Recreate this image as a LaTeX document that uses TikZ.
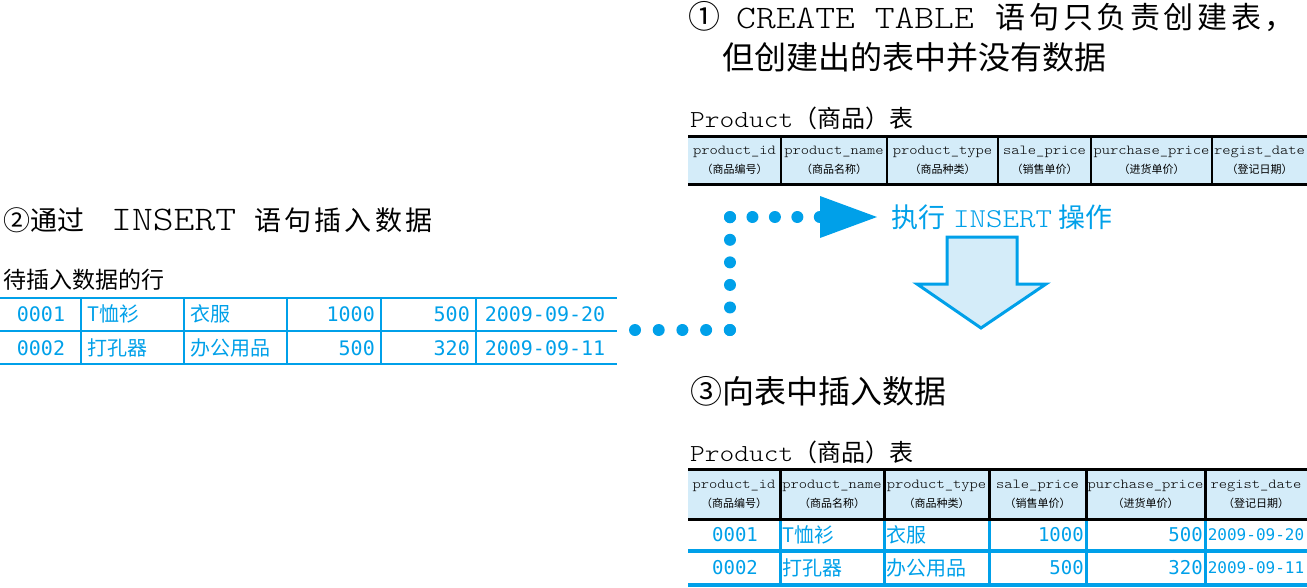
\documentclass[tikz,border=0pt]{standalone}
\usepackage{fontspec}
\setmonofont[FakeStretch=1.15]{Latin Modern Mono Light}
\newfontfamily\cjk{Noto Sans CJK SC}
\newfontfamily\cjkwide[LetterSpace=12]{Noto Sans CJK SC}
\newfontfamily\numfont{DejaVu Sans Mono}
\newcommand{\fsz}[1]{\fontsize{#1}{#1}\selectfont}
\newcommand{\sublabel}[1]{{\cjk\fsz{11}#1}}
\definecolor{insblue}{HTML}{00A0E9}
\definecolor{paleblue}{HTML}{D4ECF9}

\begin{document}
\begin{tikzpicture}[x=1pt,y=-1pt]
        \tikzstyle{every node}=[inner sep=0pt, text=black]
        \tikzstyle{title}=[anchor=west, font=\fsz{32}]
        \tikzstyle{caption}=[anchor=west, font=\fsz{24}]
        \tikzstyle{head}=[font=\ttfamily\fontsize{13.7}{19}\selectfont]
        \tikzstyle{cell}=[text=insblue, font=\numfont\fsz{20}]
        \tikzstyle{frame}=[black, line width=3pt]
        \tikzstyle{grid}=[insblue, line width=2.5pt]
        \tikzstyle{dots}=[insblue, line width=12pt, line cap=round]

        \useasboundingbox (0,0) rectangle (1307,587);

        \node[title] (create) at (688,17) {{\cjk ①}\hspace{16pt}{\ttfamily\fsz{32.8}CREATE TABLE}\hspace{22pt}{\cjkwide\fsz{30}语句只负责创建表，}};
        \node[title] (nodata) at (722,57) {\cjk 但创建出的表中并没有数据};
        \node[title, font=\fsz{27}] (insert) at (3,220) {{\cjk ②通过}\hspace{27pt}{\ttfamily\fsz{34.5}INSERT}\hspace{18pt}{\cjkwide 语句插入数据}};
        \node[title] (added) at (690,391) {\cjk ③向表中插入数据};

        \node[caption, font=\fsz{23}] (waiting) at (3,280) {\cjk 待插入数据的行};
        \node[caption] (prodtop) at (690,118) {{\ttfamily\fsz{24.4}Product}{\cjk （商品）表}};
        \node[caption] (prodbottom) at (690,452) {{\ttfamily\fsz{24.4}Product}{\cjk （商品）表}};

        \fill[paleblue] (688,136) rectangle (1307,184);
        \draw[frame] (688,136) -- (1307,136) (688,184) -- (1307,184);
        \draw[black, line width=2pt] (781,136) -- (781,184) (887,136) -- (887,184) (998,136) -- (998,184)
                (1091,136) -- (1091,184) (1212,136) -- (1212,184);

        \node[head] (id1)    at (734.5,160)  {\begin{tabular}{@{}c@{}} product\_id     \\ \sublabel{（商品编号）} \end{tabular}};
        \node[head] (name1)  at (834,160)    {\begin{tabular}{@{}c@{}} product\_name   \\ \sublabel{（商品名称）} \end{tabular}};
        \node[head] (type1)  at (942.5,160)  {\begin{tabular}{@{}c@{}} product\_type   \\ \sublabel{（商品种类）} \end{tabular}};
        \node[head] (sale1)  at (1044.5,160) {\begin{tabular}{@{}c@{}} sale\_price     \\ \sublabel{（销售单价）} \end{tabular}};
        \node[head] (buy1)   at (1151.5,160) {\begin{tabular}{@{}c@{}} purchase\_price \\ \sublabel{（进货单价）} \end{tabular}};
        \node[head] (date1)  at (1259.5,160) {\begin{tabular}{@{}c@{}} regist\_date    \\ \sublabel{（登记日期）} \end{tabular}};

        \draw[grid] (0,298) -- (617,298) (0,331) -- (617,331) (0,364) -- (617,364);
        \draw[grid] (81,298) -- (81,364) (184,298) -- (184,364) (287,298) -- (287,364)
                (381,298) -- (381,364) (476,298) -- (476,364);

        \node[cell]              (id01)   at (41,314)  {0001};
        \node[cell, anchor=west] (name01) at (87,314)  {\cjk T恤衫};
        \node[cell, anchor=west] (type01) at (190,314) {\cjk 衣服};
        \node[cell, anchor=east] (sale01) at (375,314) {1000};
        \node[cell, anchor=east] (buy01)  at (470,314) {500};
        \node[cell]              (date01) at (545,314) {2009-09-20};
        \node[cell]              (id02)   at (41,348)  {0002};
        \node[cell, anchor=west] (name02) at (87,348)  {\cjk 打孔器};
        \node[cell, anchor=west] (type02) at (190,348) {\cjk 办公用品};
        \node[cell, anchor=east] (sale02) at (375,348) {500};
        \node[cell, anchor=east] (buy02)  at (470,348) {320};
        \node[cell]              (date02) at (545,348) {2009-09-11};

        \coordinate (rowsout) at (635,330);
        \coordinate (turn)    at (730,330);
        \coordinate (rise)    at (730,217);
        \coordinate (tipbase) at (820,217);
        \coordinate (tip)     at (877,217);
        \draw[dots, dash pattern=on 0pt off 23.7pt]  (rowsout) -- (turn);
        \draw[dots, dash pattern=on 0pt off 22.55pt] (turn) -- (rise);
        \draw[dots, dash pattern=on 0pt off 22.45pt] (rise) -- (tipbase);
        \fill[insblue] (820,196) -- (tip) -- (820,238) -- cycle;

        \node[anchor=west, text=insblue, font=\fsz{27}] (exec) at (891,217) {{\cjk 执行}\hspace{8pt}{\ttfamily\fsz{27.3}INSERT}\hspace{6pt}{\cjk 操作}};

        \draw[insblue, line width=3pt, fill=paleblue] (947,237) -- (1017,237) -- (1017,284) -- (1046,284)
                -- (981,328) -- (917,284) -- (947,284) -- cycle;

        \fill[paleblue] (688,469) rectangle (1307,519);
        \draw[grid, line width=3.5pt] (688,551) -- (1307,551) (688,585) -- (1307,585);
        \draw[grid, line width=3pt] (780,519) -- (780,585) (884,519) -- (884,585) (989,519) -- (989,585)
                (1086,519) -- (1086,585) (1205,519) -- (1205,585);
        \draw[frame] (688,469) -- (1307,469) (688,519) -- (1307,519);
        \draw[frame] (780,469) -- (780,519) (884,469) -- (884,519) (989,469) -- (989,519)
                (1086,469) -- (1086,519) (1205,469) -- (1205,519);

        \node[head] (id2)    at (734,494)    {\begin{tabular}{@{}c@{}} product\_id     \\ \sublabel{（商品编号）} \end{tabular}};
        \node[head] (name2)  at (832,494)    {\begin{tabular}{@{}c@{}} product\_name   \\ \sublabel{（商品名称）} \end{tabular}};
        \node[head] (type2)  at (936.5,494)  {\begin{tabular}{@{}c@{}} product\_type   \\ \sublabel{（商品种类）} \end{tabular}};
        \node[head] (sale2)  at (1037.5,494) {\begin{tabular}{@{}c@{}} sale\_price     \\ \sublabel{（销售单价）} \end{tabular}};
        \node[head] (buy2)   at (1145.5,494) {\begin{tabular}{@{}c@{}} purchase\_price \\ \sublabel{（进货单价）} \end{tabular}};
        \node[head] (date2)  at (1256,494)   {\begin{tabular}{@{}c@{}} regist\_date    \\ \sublabel{（登记日期）} \end{tabular}};

        \node[cell, font=\numfont\fsz{19}]              (id03)   at (735,535)  {0001};
        \node[cell, anchor=west]                        (name03) at (782,535)  {\cjk T恤衫};
        \node[cell, anchor=west]                        (type03) at (886,535)  {\cjk 衣服};
        \node[cell, anchor=east, font=\numfont\fsz{19}] (sale03) at (1084,535) {1000};
        \node[cell, anchor=east, font=\numfont\fsz{19}] (buy03)  at (1203,535) {500};
        \node[cell, font=\numfont\fsz{16}]              (date03) at (1256,535) {2009-09-20};
        \node[cell, font=\numfont\fsz{19}]              (id04)   at (735,568)  {0002};
        \node[cell, anchor=west]                        (name04) at (782,568)  {\cjk 打孔器};
        \node[cell, anchor=west]                        (type04) at (886,568)  {\cjk 办公用品};
        \node[cell, anchor=east, font=\numfont\fsz{19}] (sale04) at (1084,568) {500};
        \node[cell, anchor=east, font=\numfont\fsz{19}] (buy04)  at (1203,568) {320};
        \node[cell, font=\numfont\fsz{16}]              (date04) at (1256,568) {2009-09-11};
    \end{tikzpicture}
\end{document}
